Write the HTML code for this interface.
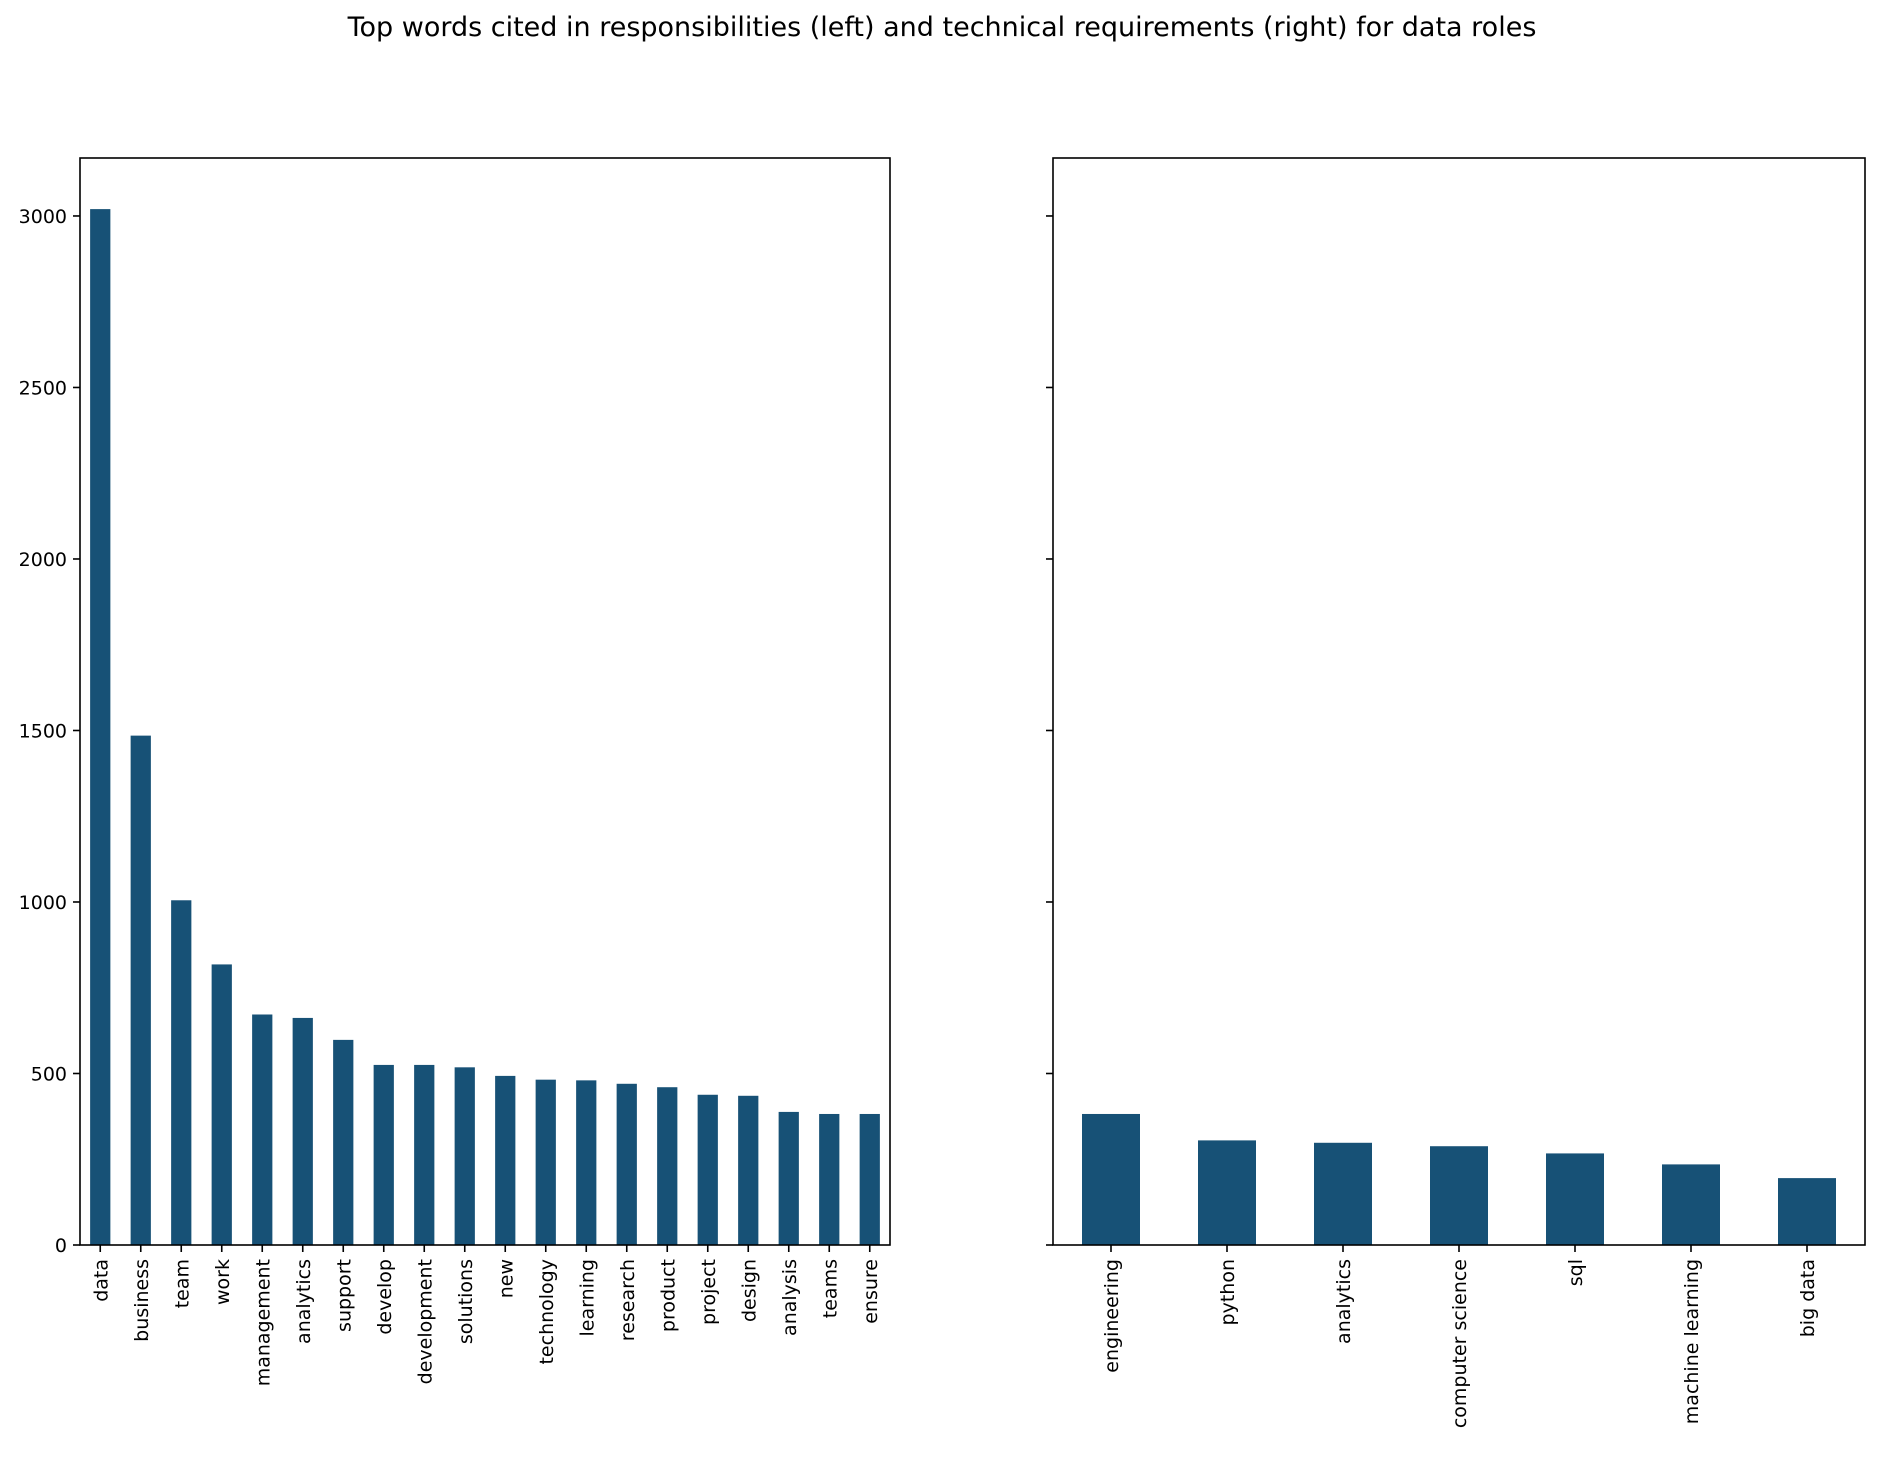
<!DOCTYPE html>
<html><head><meta charset="utf-8"><style>
body{margin:0;background:#fff}
svg text{font-family:"DejaVu Sans","Liberation Sans",sans-serif;fill:#000}
</style></head><body>
<svg id="chart" width="1883" height="1452" xmlns="http://www.w3.org/2000/svg">
<text x="942" y="36" font-size="27" text-anchor="middle">Top words cited in responsibilities (left) and technical requirements (right) for data roles</text>
<g id="g"></g>
</svg>
<script>
const leftCats=["data","business","team","work","management","analytics","support","develop","development","solutions","new","technology","learning","research","product","project","design","analysis","teams","ensure"];
const leftVals=[3020,1485,1005,818,672,662,598,525,525,518,493,482,480,470,460,438,435,388,382,382];
const rightCats=["engineering","python","analytics","computer science","sql","machine learning","big data"];
const rightVals=[382,305,298,288,267,235,195];
const yTicks=[0,500,1000,1500,2000,2500,3000];
const yMax=3169;
const NS="http://www.w3.org/2000/svg";
const g=document.getElementById('g');
const yTop=158,yBot=1245;
function y(v){return yBot-(yBot-yTop)*v/yMax;}
function mk(t,a,txt){const e=document.createElementNS(NS,t);for(const k in a)e.setAttribute(k,a[k]);if(txt!==undefined)e.textContent=txt;g.appendChild(e);return e;}
function panel(x0,x1,cats,vals,labels,side){
  const band=(x1-x0)/cats.length;
  cats.forEach((c,i)=>{
    const cx=x0+band*(i+0.5),w=band*0.5;
    const r=mk('rect',{x:cx-w/2,y:y(vals[i]),width:w,height:yBot-y(vals[i]),fill:'#175176'});
    
    
    mk('line',{x1:cx,x2:cx,y1:yBot,y2:yBot+7,stroke:'#000','stroke-width':1.6});
    const t=mk('text',{x:0,y:0,'font-size':19,'text-anchor':'end',transform:`translate(${cx+7},${yBot+14}) rotate(-90)`},c);
    
    
  });
  yTicks.forEach(v=>{
    mk('line',{x1:x0-7,x2:x0,y1:y(v),y2:y(v),stroke:'#000','stroke-width':1.6});
    if(labels){
      const t=mk('text',{x:x0-13,y:y(v)+7,'font-size':19,'text-anchor':'end'},v);
      
      
    }
  });
  const f=mk('rect',{x:x0,y:yTop,width:x1-x0,height:yBot-yTop,fill:'none',stroke:'#000','stroke-width':1.6});
  
  
}
panel(80,890,leftCats,leftVals,true,'left');
panel(1053,1865,rightCats,rightVals,false,'right');
</script>
</body></html>
